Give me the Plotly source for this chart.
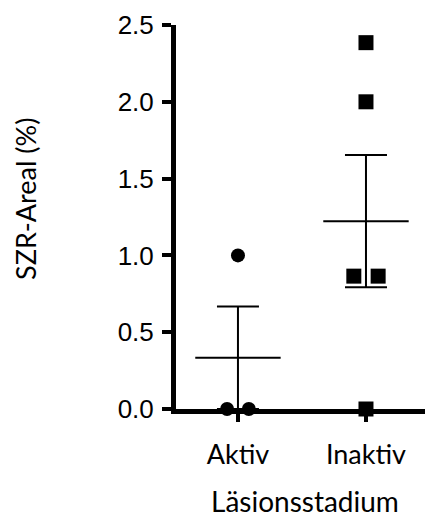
import plotly.graph_objects as go
import numpy as np

categories = ["Aktiv", "Inaktiv"]
aktiv_values = [0.0, 0.0, 1.0]
aktiv_offsets = [-0.085, 0.085, 0.0]
inaktiv_values = [2.385, 2.0, 0.865, 0.865, 0.0]
inaktiv_offsets = [0.0, 0.0, -0.095, 0.095, 0.0]
y_ticks = [0.0, 0.5, 1.0, 1.5, 2.0, 2.5]

def mean_sem(v):
    a = np.array(v)
    return a.mean(), a.std(ddof=1) / np.sqrt(len(a))

m_a, s_a = mean_sem(aktiv_values)
m_i, s_i = mean_sem(inaktiv_values)

W, H = 428, 519
L, R, T, B = 176, 3, 25, 110
pw = W - L - R
ph = H - T - B

fig = go.Figure()

fig.add_trace(go.Scatter(
    x=[0, 1], y=[m_a, m_i], mode="markers",
    marker=dict(size=1, color="rgba(0,0,0,0)"),
    error_y=dict(type="data", array=[s_a, s_i], visible=True,
                 color="black", thickness=2, width=21),
    showlegend=False, hoverinfo="skip", cliponaxis=False))
fig.add_trace(go.Scatter(
    x=[0, 1], y=[m_a, m_i], mode="markers",
    marker=dict(symbol="line-ew", size=61, color="black",
                line=dict(color="black", width=2)),
    showlegend=False, cliponaxis=False))
fig.add_trace(go.Scatter(
    x=[0 + o for o in aktiv_offsets], y=aktiv_values, mode="markers",
    marker=dict(symbol="circle", size=14, color="black"),
    showlegend=False, cliponaxis=False))
fig.add_trace(go.Scatter(
    x=[1 + o for o in inaktiv_offsets], y=inaktiv_values, mode="markers",
    marker=dict(symbol="square", size=15, color="black"),
    showlegend=False, cliponaxis=False))

fig.update_layout(
    width=W, height=H,
    margin=dict(l=L, r=R, t=T, b=B, autoexpand=False),
    plot_bgcolor="white", paper_bgcolor="white",
    xaxis=dict(range=[-0.484, 1.461], tickmode="array", tickvals=[0, 1],
               ticktext=categories, showgrid=False, zeroline=False,
               automargin=False,
               showline=True, linecolor="black", linewidth=5,
               ticks="outside", ticklen=8, tickwidth=4, tickcolor="black",
               ticklabelstandoff=10,
               tickfont=dict(family="Lato", size=27, color="black")),
    yaxis=dict(range=[0, 2.5], tickmode="array", tickvals=y_ticks,
               ticktext=[f"{t:.1f}" for t in y_ticks], showgrid=False,
               automargin=False,
               zeroline=False, showline=True, linecolor="black", linewidth=5,
               ticks="outside", ticklen=9, tickwidth=4, tickcolor="black",
               ticklabelstandoff=3,
               tickfont=dict(family="Liberation Sans", size=26, color="black")),
)
fig.add_annotation(text="SZR-Areal (%)", textangle=-90,
                   x=(25 - L) / pw, y=(H - B - 199) / ph,
                   xref="paper", yref="paper", xanchor="center", yanchor="middle",
                   showarrow=False,
                   font=dict(family="Lato", size=27, color="black"))
fig.add_annotation(text="Läsionsstadium",
                   x=(305 - L) / pw, y=(H - B - 501) / ph,
                   xref="paper", yref="paper", xanchor="center", yanchor="middle",
                   showarrow=False,
                   font=dict(family="Lato", size=28, color="black"))

fig.write_html("out.html", config={"displayModeBar": False},
               post_script="document.body.style.margin='0px';document.body.style.overflow='hidden';")
